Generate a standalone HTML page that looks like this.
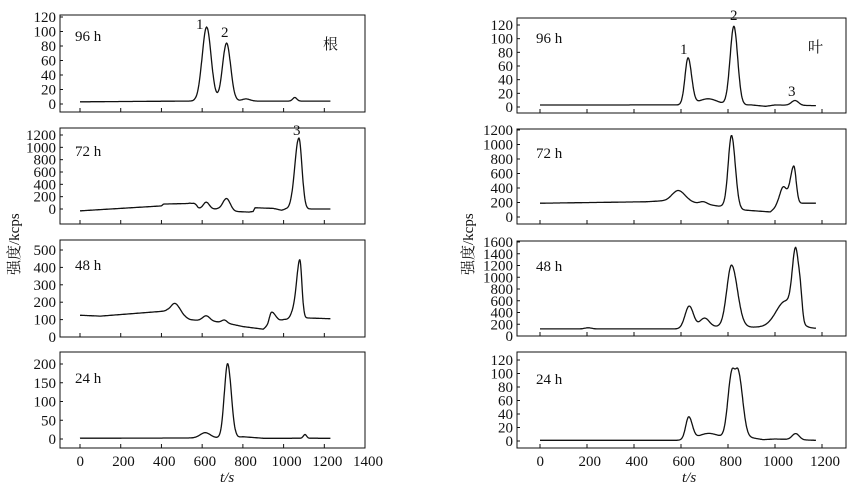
<!DOCTYPE html>
<html><head><meta charset="utf-8"><style>
body{margin:0;background:#fff;font-family:"Liberation Serif","Times New Roman",Times,"Noto Serif CJK SC",serif;}
svg,svg *{font-family:"Liberation Serif","Times New Roman",Times,"Noto Serif CJK SC",serif !important;}
text{fill:#111;}
</style></head><body>
<svg id="s" width="867" height="490" xmlns="http://www.w3.org/2000/svg" style='font-family:"Liberation Serif","Times New Roman",serif'>
<g font-size="15">
<text x="75" y="41">96 h</text><text x="75" y="156">72 h</text><text x="75" y="270">48 h</text><text x="75" y="383">24 h</text>
<text x="536" y="43">96 h</text><text x="536" y="158">72 h</text><text x="536" y="271">48 h</text><text x="536" y="384">24 h</text>
<text x="323" y="49" font-size="15">根</text><text x="808" y="52" font-size="15">叶</text>
<text x="196" y="29">1</text><text x="221" y="37">2</text><text x="293" y="135">3</text>
<text x="680" y="54">1</text><text x="730" y="20">2</text><text x="788" y="96">3</text>
<text x="220" y="482" font-style="italic">t/s</text><text x="682" y="482" font-style="italic">t/s</text>
<text transform="translate(19,275) rotate(-90)" font-size="15">强度/kcps</text>
<text transform="translate(473,275) rotate(-90)" font-size="15">强度/kcps</text>
</g>
<g id="g" fill="none" stroke="#111" stroke-width="1.3"></g>
<g id="t" font-size="15" text-anchor="end"></g>
</svg>
<script>
const NS="http://www.w3.org/2000/svg",G=document.getElementById('g'),T=document.getElementById('t');
function el(p,n,a,txt){const e=document.createElementNS(NS,n);for(const k in a)e.setAttribute(k,a[k]);if(txt!==undefined)e.textContent=txt;p.appendChild(e);return e;}
function lin(b,t){if(t<=b[0][0])return b[0][1];for(let i=1;i<b.length;i++){if(t<=b[i][0]){const a=b[i-1],c=b[i];return a[1]+(c[1]-a[1])*(t-a[0])/(c[0]-a[0]);}}return b[b.length-1][1];}
function panel(P){
 const X=t=>P.x0+t*P.sx,Y=v=>P.y0-(v/P.vt)*(P.y0-P.yt);
 el(G,'rect',{x:P.L,y:P.top,width:P.R-P.L,height:P.bot-P.top,'stroke-width':1});
 for(let t=0;t<=1200;t+=200)el(G,'line',{x1:X(t),x2:X(t),y1:P.bot,y2:P.bot-4,'stroke-width':1});
 P.ticks.forEach(v=>{el(G,'line',{x1:P.L,x2:P.L+3,y1:Y(v),y2:Y(v),'stroke-width':1});el(T,'text',{x:P.L-4,y:Y(v)+5},v);});
 let d='';for(let t=0;t<=P.end;t+=2){let v=lin(P.b,t);P.p.forEach(q=>{const s=t<q[0]?q[2]:(q[3]||q[2]);v+=q[1]*Math.exp(-(t-q[0])*(t-q[0])/(2*s*s));});d+=(t?'L':'M')+X(t).toFixed(1)+' '+Y(v).toFixed(1);}
 el(G,'path',{d:d});
 if(P.xl){for(let t=0;t<=P.xmax;t+=200)el(T,'text',{x:X(t)+(t<100?4:t<1000?14:18),y:466},t);}
}
const Ls={L:60,R:365,x0:80,sx:0.2036,end:1230},Rs={L:517,R:846,x0:540,sx:0.235,end:1175};
const P=[
 Object.assign({},Ls,{top:15,bot:112,y0:104,yt:17,vt:120,ticks:[0,20,40,60,80,100,120],b:[[0,3],[500,4],[1230,4]],p:[[622,102,22,22],[720,80,20,20],[815,3,20],[1055,5,10]]}),
 Object.assign({},Ls,{top:128,bot:224,y0:209,yt:135,vt:1200,ticks:[0,200,400,600,800,1000,1200],b:[[0,-30],[400,50],[410,80],[540,90],[580,0],[680,0],[760,-40],[830,-50],[850,-40],[860,20],[950,10],[990,-20],[1010,0],[1230,0]],p:[[565,50,12],[620,110,15],[720,190,18],[1075,1150,20,15]]}),
 Object.assign({},Ls,{top:240,bot:337,y0:337,yt:250,vt:500,ticks:[0,100,200,300,400,500],b:[[0,125],[100,120],[430,150],[540,100],[580,95],[700,85],[800,60],[900,45],[915,60],[1000,100],[1100,110],[1230,105]],p:[[468,60,20,25],[620,30,18],[710,15,12],[940,70,10,20],[1055,60,15],[1080,320,14,10]]}),
 Object.assign({},Ls,{top:352,bot:448,y0:439,yt:364,vt:200,ticks:[0,50,100,150,200],xl:1,xmax:1400,b:[[0,2],[760,3],[800,6],[900,2],[1230,2]],p:[[615,14,25],[725,198,16,18],[1105,10,8]]}),
 Object.assign({},Rs,{top:18,bot:113,y0:107,yt:25,vt:120,ticks:[0,20,40,60,80,100,120],b:[[0,3],[560,3],[900,3],[960,1],[1000,3],[1175,2]],p:[[630,68,13,15],[715,9,40],[825,115,16,16],[1085,7,15]]}),
 Object.assign({},Rs,{top:129,bot:224,y0:217,yt:130,vt:1200,ticks:[0,200,400,600,800,1000,1200],b:[[0,190],[450,210],[560,230],[620,200],[700,180],[760,150],[780,150],[850,100],[980,70],[1010,150],[1100,190],[1175,190]],p:[[590,150,25,30],[695,30,15],[815,1000,14,16],[1035,250,15],[1080,520,15,10]]}),
 Object.assign({},Rs,{top:241,bot:336,y0:336,yt:242,vt:1600,ticks:[0,200,400,600,800,1000,1200,1400,1600],b:[[0,120],[600,120],[760,160],[900,150],[980,150],[1150,130],[1175,130]],p:[[205,20,15],[635,380,18],[700,160,20],[815,1050,20,25],[1045,450,40],[1088,1100,14,12],[1108,400,8]]}),
 Object.assign({},Rs,{top:352,bot:448,y0:441,yt:360,vt:120,ticks:[0,20,40,60,80,100,120],xl:1,xmax:1200,b:[[0,1],[580,1],[880,6],[950,2],[1000,3],[1175,1]],p:[[633,33,13,15],[715,8,40],[815,90,16,14],[845,90,14,18],[1088,9,15]]})
];
P.forEach(panel);
</script>
</body></html>
